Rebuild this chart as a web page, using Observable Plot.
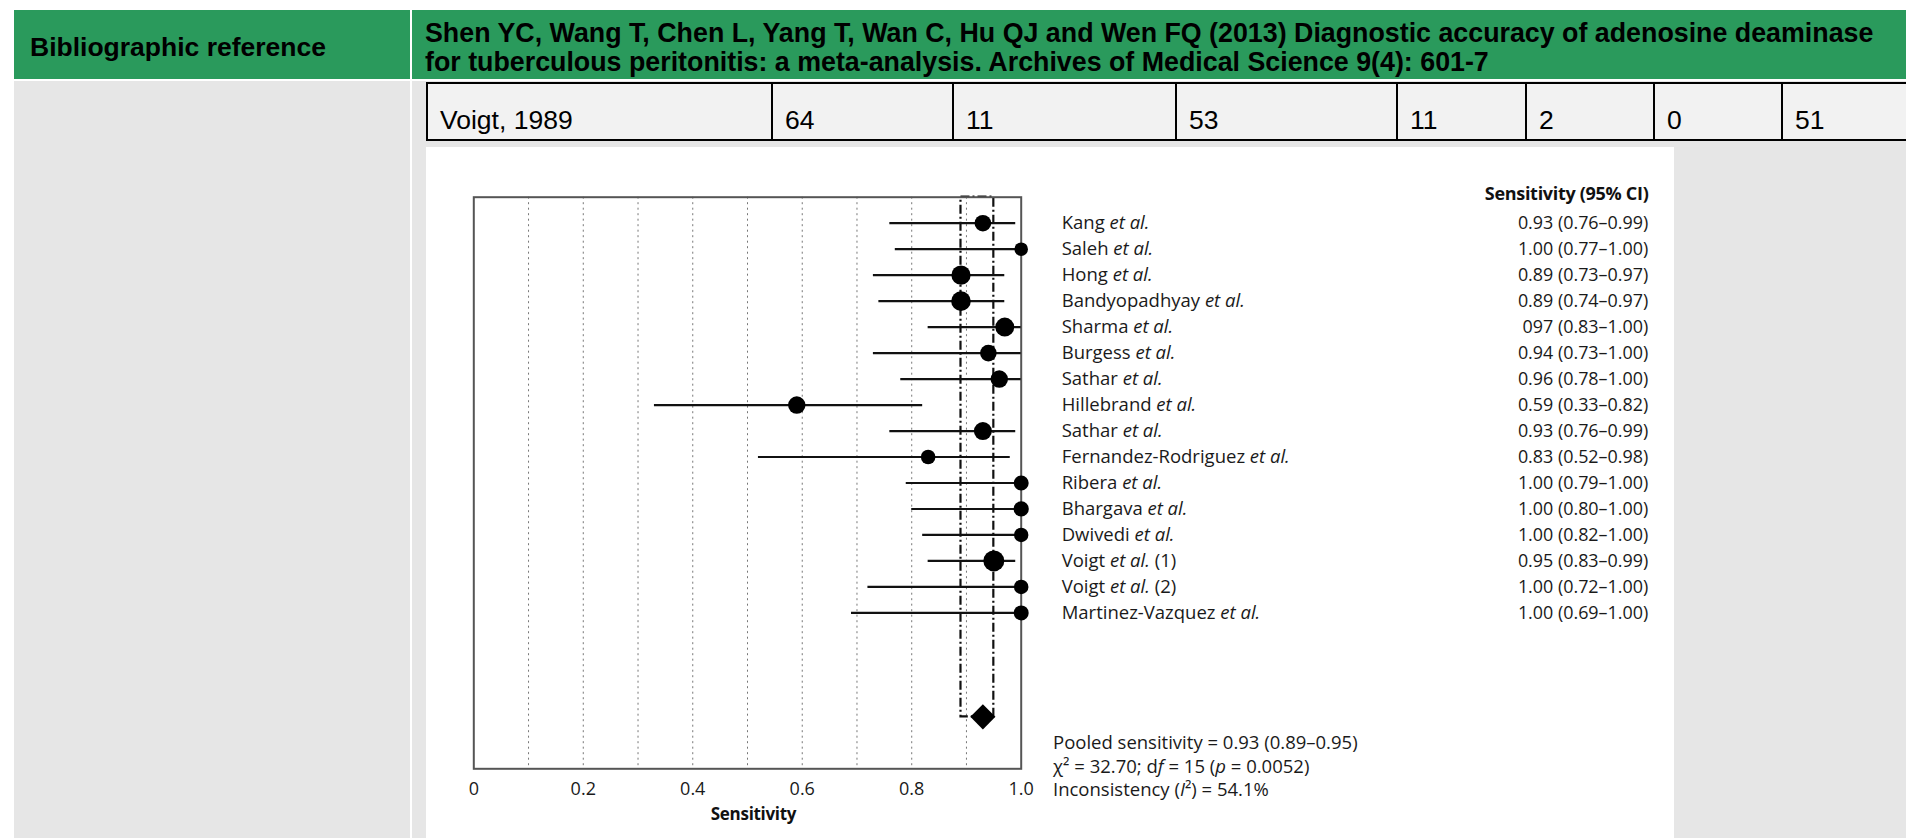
<!DOCTYPE html>
<html>
<head>
<meta charset="utf-8">
<script src="https://cdn.jsdelivr.net/npm/d3@7"></script>
<script src="https://cdn.jsdelivr.net/npm/@observablehq/plot@0.6"></script>
<style>
  html, body { margin: 0; padding: 0; background: #fff; }
  body { width: 1906px; height: 838px; overflow: hidden; position: relative; font-family: "Liberation Sans", Arial, sans-serif; }
  .green { position: absolute; background: #2a9a5c; color: #000; font-weight: bold; font-size: 26.5px; line-height: 29px; box-sizing: border-box; white-space: nowrap; }
  .gray { position: absolute; background: #e6e6e6; }
  #row { position: absolute; left: 426px; top: 82px; height: 55px; display: flex; border-top: 2px solid #000; border-bottom: 2px solid #000; background: #f2f2f2; }
  #row .cell { border-left: 2px solid #000; box-sizing: border-box; height: 55px; display: flex; align-items: flex-end; padding: 0 0 4px 12px; font-size: 26.5px; line-height: 30px; color: #000; white-space: nowrap; }
  #chart { position: absolute; left: 426px; top: 147px; width: 1248px; height: 691px; background: #fff; }
</style>
</head>
<body>
<div class="green" id="hdrL" style="left:14px; top:10px; width:396px; height:69px; padding:23px 0 0 16px;"></div>
<div class="green" id="hdrR" style="left:412px; top:10px; width:1494px; height:69px; padding:9px 0 0 13px; font-size:26.8px;"></div>
<div class="gray" style="left:14px; top:81px; width:396px; height:757px;"></div>
<div class="gray" style="left:412px; top:81px; width:1494px; height:757px;"></div>
<div id="row"></div>
<div id="chart"></div>
<script>
// ---- table text ----
const headerLabel = "Bibliographic reference";
const referenceLines = [
  "Shen YC, Wang T, Chen L, Yang T, Wan C, Hu QJ and Wen FQ (2013) Diagnostic accuracy of adenosine deaminase",
  "for tuberculous peritonitis: a meta-analysis. Archives of Medical Science 9(4): 601-7"
];
const tableRow = ["Voigt, 1989", "64", "11", "53", "11", "2", "0", "51"];

// ---- forest plot data ----
const studies = ["Kang et al.", "Saleh et al.", "Hong et al.", "Bandyopadhyay et al.", "Sharma et al.",
  "Burgess et al.", "Sathar et al.", "Hillebrand et al.", "Sathar et al.", "Fernandez-Rodriguez et al.",
  "Ribera et al.", "Bhargava et al.", "Dwivedi et al.", "Voigt et al. (1)", "Voigt et al. (2)", "Martinez-Vazquez et al."];
const sensitivity = [0.93, 1.00, 0.89, 0.89, 0.97, 0.94, 0.96, 0.59, 0.93, 0.83, 1.00, 1.00, 1.00, 0.95, 1.00, 1.00];
const ciLow  = [0.76, 0.77, 0.73, 0.74, 0.83, 0.73, 0.78, 0.33, 0.76, 0.52, 0.79, 0.80, 0.82, 0.83, 0.72, 0.69];
const ciHigh = [0.99, 1.00, 0.97, 0.97, 1.00, 1.00, 1.00, 0.82, 0.99, 0.98, 1.00, 1.00, 1.00, 0.99, 1.00, 1.00];
const ciLabels = ["0.93 (0.76–0.99)", "1.00 (0.77–1.00)", "0.89 (0.73–0.97)", "0.89 (0.74–0.97)", "097 (0.83–1.00)",
  "0.94 (0.73–1.00)", "0.96 (0.78–1.00)", "0.59 (0.33–0.82)", "0.93 (0.76–0.99)", "0.83 (0.52–0.98)",
  "1.00 (0.79–1.00)", "1.00 (0.80–1.00)", "1.00 (0.82–1.00)", "0.95 (0.83–0.99)", "1.00 (0.72–1.00)", "1.00 (0.69–1.00)"];
const studyWeights = [69, 46, 92, 96, 90, 69, 76, 76, 81, 53, 56, 58, 52, 110, 53, 56];
const pooled = { sens: 0.93, lo: 0.89, hi: 0.95 };
const statsLines = [
  "Pooled sensitivity = 0.93 (0.89–0.95)",
  "χ² = 32.70; df = 15 (p = 0.0052)",
  "Inconsistency (I²) = 54.1%"
];
const xTicks = [0, 0.2, 0.4, 0.6, 0.8, 1.0];
const xTickLabels = ["0", "0.2", "0.4", "0.6", "0.8", "1.0"];
const gridValues = [0.1, 0.2, 0.3, 0.4, 0.5, 0.6, 0.7, 0.8, 0.9];
const columnHeader = "Sensitivity (95% CI)";
const xLabel = "Sensitivity";

// ---- build table ----
document.getElementById("hdrL").textContent = headerLabel;
document.getElementById("hdrR").innerHTML = referenceLines.join("<br>");
const cellWidths = [345, 181, 223, 221, 129, 128, 128, 200];
const rowEl = document.getElementById("row");
tableRow.forEach((t, i) => {
  const c = document.createElement("div");
  c.className = "cell";
  c.style.width = cellWidths[i] + "px";
  c.textContent = t;
  rowEl.appendChild(c);
});

// ---- forest plot ----
const rows = studies.map((name, i) => ({
  name, sens: sensitivity[i], lo: ciLow[i], hi: ciHigh[i], label: ciLabels[i], weight: studyWeights[i], row: i
}));
const pooledRow = studies.length + 3;
const txt = "#1a1a1a";

const svg = Plot.plot({
  width: 1248,
  height: 691,
  marginLeft: 47.3,
  marginRight: 653.3,
  marginTop: 49.7,
  marginBottom: 69.7,
  style: { fontFamily: "'Open Sans', sans-serif", fontSize: "18.5px", background: "#fff", color: txt },
  x: { domain: [0, 1] },
  y: { domain: [-1, pooledRow + 2], reverse: true, axis: null },
  r: { type: "sqrt", domain: [0, 100], range: [0, 10] },
  marks: [
    Plot.ruleX(gridValues, { stroke: "#777", strokeWidth: 1, strokeDasharray: "2,3.5" }),
    Plot.rect([pooled], { x1: "lo", x2: "hi", y1: -1, y2: pooledRow, fill: "none", stroke: "#111", strokeWidth: 2.2, strokeDasharray: "9,3,2,3" }),
    Plot.frame({ stroke: "#555", strokeWidth: 2 }),
    Plot.ruleY(rows, { y: "row", x1: "lo", x2: "hi", stroke: "#111", strokeWidth: 2.2 }),
    Plot.dot(rows, { x: "sens", y: "row", r: "weight", fill: "#000", stroke: "none" }),
    Plot.dot([pooled], { x: "sens", y: pooledRow, symbol: "diamond2", r: 11.3, fill: "#000", stroke: "none" }),
    Plot.axisX(xTicks, { tickFormat: d => xTickLabels[xTicks.indexOf(d)], tickSize: 0, tickPadding: 13, fontSize: 18, fill: txt, label: null }),
    Plot.text([xLabel], { text: d => d, frameAnchor: "bottom", dx: 6, dy: 51, fontWeight: "bold", fontSize: 17, fill: "#111" }),
    Plot.text(rows, { y: "row", text: "name", frameAnchor: "right", textAnchor: "start", dx: 40.5, fill: txt, fontSize: 18.5 }),
    Plot.text(rows, { y: "row", text: "label", frameAnchor: "right", textAnchor: "end", dx: 627, fill: txt, fontSize: 17.9 }),
    Plot.text([columnHeader], { text: d => d, frameAnchor: "top-right", textAnchor: "end", dx: 627.3, dy: -9.7, fontWeight: "bold", fontSize: 18, fill: "#111" }),
    Plot.text([statsLines.join("\n")], { text: d => d, frameAnchor: "bottom-right", textAnchor: "start", lineAnchor: "middle", lineHeight: 1.27, dx: 31.8, dy: -3.8, fill: txt, fontSize: 18.5 })
  ]
});

// italic parts
svg.querySelectorAll("text").forEach(t => {
  if (t.children.length === 0 && /et al\./.test(t.textContent)) {
    t.innerHTML = t.textContent.replace(/et al\./, '<tspan font-style="italic">et al.</tspan>');
  }
});
svg.querySelectorAll("tspan").forEach(t => {
  const s = t.textContent;
  if (s.startsWith("χ")) {
    t.innerHTML = s.replace("df", 'd<tspan font-style="italic">f</tspan>').replace("(p", '(<tspan font-style="italic">p</tspan>');
  } else if (s.startsWith("Inconsistency")) {
    t.innerHTML = s.replace("(I", '(<tspan font-style="italic">I</tspan>');
  }
});
svg.querySelectorAll("text").forEach(t => {
  if (t.getAttribute("font-weight") === "bold" || (t.parentNode && t.parentNode.getAttribute && t.parentNode.getAttribute("font-weight") === "bold")) {
    t.setAttribute("letter-spacing", "-0.3");
  }
});
document.getElementById("chart").appendChild(svg);
</script>
</body>
</html>
